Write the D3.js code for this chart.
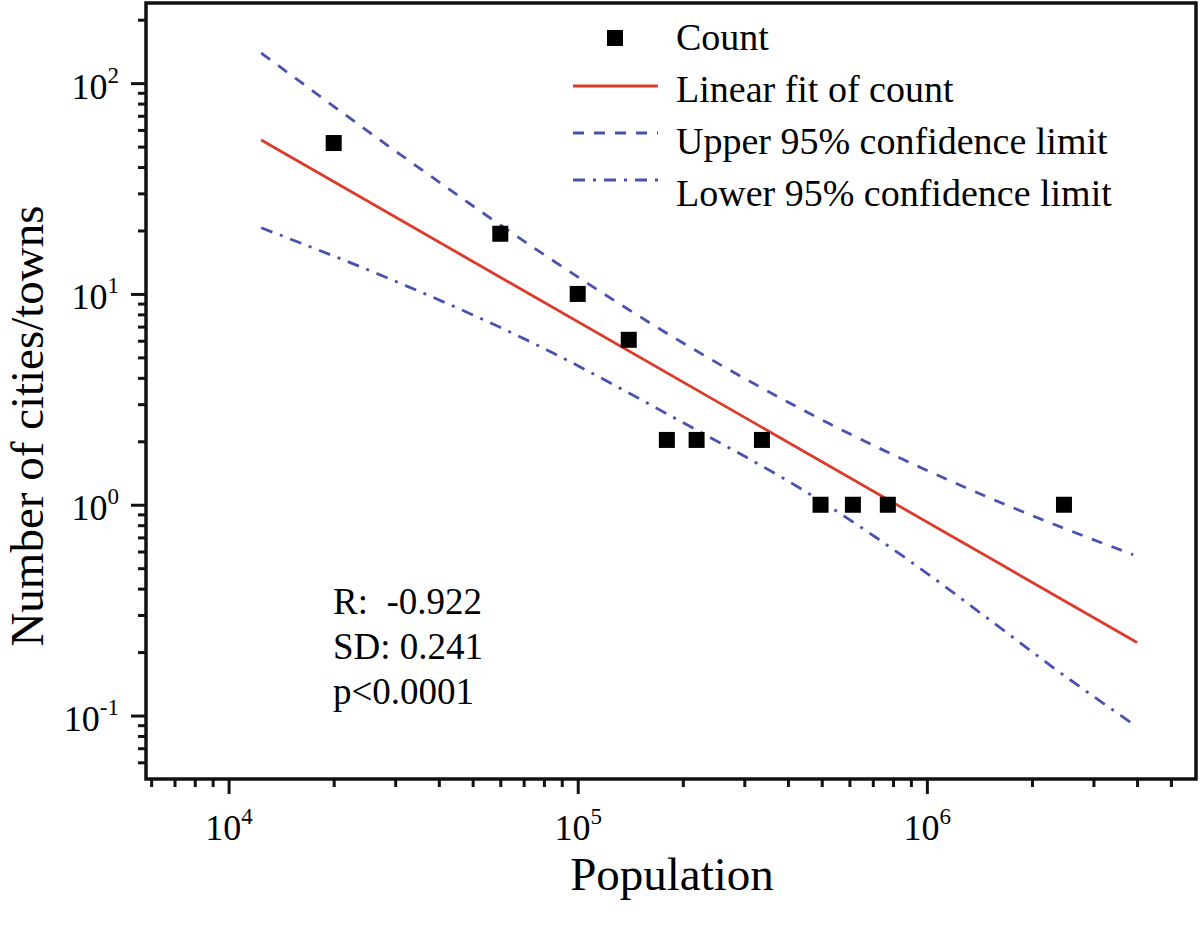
<!DOCTYPE html>
<html>
<head>
<meta charset="utf-8">
<script src="https://cdn.jsdelivr.net/npm/d3@7"></script>
<style>
body { margin: 0; background: #fff; }
svg text { font-family: "Liberation Serif", "Times New Roman", serif; fill: #000; }
</style>
</head>
<body>
<div id="graph"></div>
<script>
// data
var population = [20000, 60000, 100000, 140000, 180000, 219000, 337000, 496000, 614000, 773000, 2470000];
var count = [52, 19.3, 10, 6.06, 2.03, 2.03, 2.03, 1, 1, 1, 1];

var fitX = [12400, 4000000];
var fitY = [53.7, 0.222];

var upperX = [12400, 30900, 80400, 196000, 527000, 1300000, 2300000, 3900000];
var upperY = [139, 46.1, 15.3, 5.98, 2.42, 1.20, 0.81, 0.58];

var lowerX = [12400, 28900, 74300, 196000, 493000, 955000, 1490000, 2300000, 3900000];
var lowerY = [20.6, 11.8, 5.86, 2.50, 1.05, 0.50, 0.29, 0.169, 0.091];

var xMajor = [1e4, 1e5, 1e6];
var xMinor = [6e3, 7e3, 8e3, 9e3, 2e4, 3e4, 4e4, 5e4, 6e4, 7e4, 8e4, 9e4,
              2e5, 3e5, 4e5, 5e5, 6e5, 7e5, 8e5, 9e5, 2e6, 3e6, 4e6, 5e6];
var yMajor = [0.1, 1, 10, 100];
var yMinor = [0.06, 0.07, 0.08, 0.09, 0.2, 0.3, 0.4, 0.5, 0.6, 0.7, 0.8, 0.9,
              2, 3, 4, 5, 6, 7, 8, 9, 20, 30, 40, 50, 60, 70, 80, 90, 200];

var legendLabels = ["Count", "Linear fit of count", "Upper 95% confidence limit", "Lower 95% confidence limit"];
var statLines = ["R:  -0.922", "SD: 0.241", "p<0.0001"];

var red = "#dc3a2b", blue = "#4a52b0";

var W = 1200, H = 926;
var margin = {left: 146, right: 1196, top: 3, bottom: 779};

var svg = d3.select("#graph").append("svg")
    .attr("width", W).attr("height", H);

var x = d3.scaleLog().domain([5800, 5.9e6]).range([margin.left, margin.right]);
var y = d3.scaleLog().domain([0.05, 240]).range([margin.bottom, margin.top]);

// minor ticks
svg.append("g")
    .attr("transform", "translate(0," + margin.bottom + ")")
    .call(d3.axisBottom(x).tickValues(xMinor).tickSize(8).tickFormat(""))
    .call(function(g) { g.select(".domain").remove(); });
svg.append("g")
    .attr("transform", "translate(" + margin.left + ",0)")
    .call(d3.axisLeft(y).tickValues(yMinor).tickSize(8).tickFormat(""))
    .call(function(g) { g.select(".domain").remove(); });

// major ticks with superscript labels
var xAxis = svg.append("g")
    .attr("class", "x axis")
    .attr("transform", "translate(0," + margin.bottom + ")")
    .call(d3.axisBottom(x).tickValues(xMajor).tickSize(15).tickPadding(0).tickFormat(""));
xAxis.select(".domain").remove();

var yAxis = svg.append("g")
    .attr("class", "y axis")
    .attr("transform", "translate(" + margin.left + ",0)")
    .call(d3.axisLeft(y).tickValues(yMajor).tickSize(15).tickPadding(0).tickFormat(""));
yAxis.select(".domain").remove();

svg.selectAll(".tick line").attr("stroke", "#111").attr("stroke-width", 3);

function powerLabel(sel, v) {
  var e = Math.round(Math.log10(v));
  sel.style("font-size", "36px");
  sel.append("tspan").text("10");
  sel.append("tspan").text(e).style("font-size", "23px").attr("dy", "-16");
}

xAxis.selectAll(".tick").each(function(d) {
  var t = d3.select(this).select("text")
      .attr("y", 61).attr("dy", null)
      .attr("text-anchor", "middle")
      .text("");
  powerLabel(t, d);
});

yAxis.selectAll(".tick").each(function(d) {
  var t = d3.select(this).select("text")
      .attr("x", -27).attr("dy", null).attr("y", 15)
      .attr("text-anchor", "end")
      .text("");
  powerLabel(t, d);
});

// frame
svg.append("rect")
    .attr("x", margin.left).attr("y", margin.top)
    .attr("width", margin.right - margin.left).attr("height", margin.bottom - margin.top)
    .attr("fill", "none").attr("stroke", "#111").attr("stroke-width", 3.5);

var plot = svg.append("g");

function series(xs, ys) {
  return xs.map(function(v, i) { return [v, ys[i]]; });
}
var line = d3.line()
    .x(function(d) { return x(d[0]); })
    .y(function(d) { return y(d[1]); })
    .curve(d3.curveMonotoneX);

plot.append("path").datum(series(upperX, upperY))
    .attr("d", line).attr("fill", "none")
    .attr("stroke", blue).attr("stroke-width", 2.8)
    .attr("stroke-dasharray", "11,10");

plot.append("path").datum(series(lowerX, lowerY))
    .attr("d", line).attr("fill", "none")
    .attr("stroke", blue).attr("stroke-width", 2.8)
    .attr("stroke-dasharray", "12,8,3,8");

plot.append("path").datum(series(fitX, fitY))
    .attr("d", line).attr("fill", "none")
    .attr("stroke", red).attr("stroke-width", 2.8);

var sq = 16;
plot.selectAll(".pt").data(series(population, count))
  .enter().append("rect")
    .attr("class", "pt")
    .attr("x", function(d) { return x(d[0]) - sq / 2; })
    .attr("y", function(d) { return y(d[1]) - sq / 2; })
    .attr("width", sq).attr("height", sq)
    .attr("fill", "#000");

// legend
var legend = svg.append("g").style("font-size", "38px");
var rowText = [50, 102, 154, 206];
var rowMark = [38, 86, 133, 180];
legend.append("rect")
    .attr("x", 615 - sq / 2).attr("y", rowMark[0] - sq / 2)
    .attr("width", sq).attr("height", sq).attr("fill", "#000");
var legStyles = [null, {c: red, d: null}, {c: blue, d: "11,10"}, {c: blue, d: "12,8,3,8"}];
legStyles.forEach(function(s, i) {
  if (!s) return;
  legend.append("line")
      .attr("x1", 573).attr("x2", 658)
      .attr("y1", rowMark[i]).attr("y2", rowMark[i])
      .attr("stroke", s.c).attr("stroke-width", 2.8)
      .attr("stroke-dasharray", s.d);
});
legend.selectAll(".lt").data(legendLabels)
  .enter().append("text")
    .attr("x", 676)
    .attr("y", function(d, i) { return rowText[i]; })
    .text(function(d) { return d; });

// stats
svg.append("g").style("font-size", "37px")
  .selectAll("text").data(statLines)
  .enter().append("text")
    .attr("x", 333)
    .attr("y", function(d, i) { return 614 + i * 45; })
    .attr("xml:space", "preserve")
    .style("white-space", "pre")
    .text(function(d) { return d; });

// axis titles
svg.append("text")
    .attr("x", 672).attr("y", 890)
    .attr("text-anchor", "middle")
    .style("font-size", "47px")
    .text("Population");

svg.append("text")
    .attr("transform", "translate(43," + 426 + ") rotate(-90)")
    .attr("text-anchor", "middle")
    .style("font-size", "47px")
    .text("Number of cities/towns");
</script>
</body>
</html>
